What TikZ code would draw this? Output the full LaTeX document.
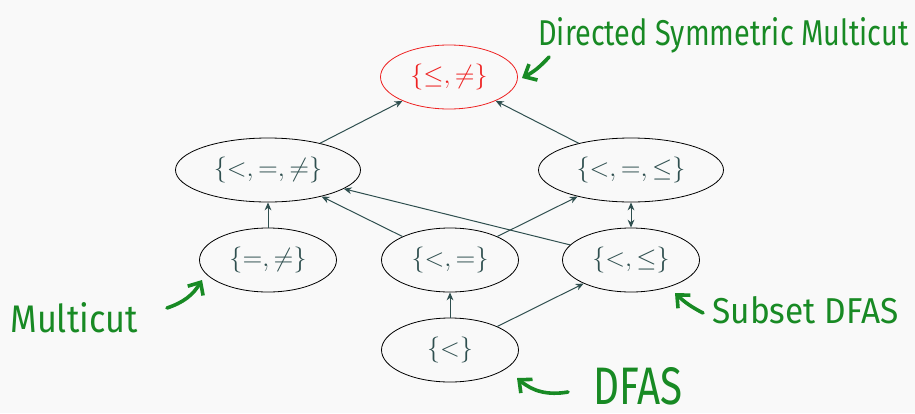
\RequirePackage{fix-cm}
\documentclass[tikz,border=0pt]{standalone}
\usepackage{fontspec}
\usepackage{graphicx}
\usetikzlibrary{shapes.geometric,arrows.meta}

\newfontfamily\handfont{Fira Sans}
\definecolor{paper}{HTML}{F9F9F9}
\definecolor{slate}{HTML}{2F4F4F}
\definecolor{setred}{HTML}{EE2222}
\definecolor{handgreen}{RGB}{24,138,36}

\begin{document}
\begin{tikzpicture} [
  x=0.5pt, y=-0.5pt,
  >={Stealth[length=4pt,width=3.4pt]},
  every node/.style={font=\fontsize{13}{16}\selectfont},
  set/.style={ellipse,draw=black,text=slate,inner sep=0,
    minimum width=68.5pt,minimum height=32pt},
  wide/.style={set,minimum width=92.5pt},
  goal/.style={set,draw=setred,text=setred},
  link/.style={draw=slate,line width=0.5pt,->},
  note/.style={text=handgreen,font=\handfont\fontsize{14}{16}\selectfont,
    inner sep=0,anchor=base west},
  pointer/.style={draw=handgreen,line width=1.8pt,line cap=round,line join=round,
    -{Straight Barb[length=5pt,width=9pt]}}
  ]
  \fill [paper] (0,0) rectangle (915,413);

  % the lattice
  \node (n0) [goal] at (449,77) {$\{\leq,\neq\}$};
  \node (n1) [wide] at (268,170) {$\{<,=,\neq\}$};
  \node (n2) [wide] at (631,170) {$\{<,=,\leq\}$};
  \node (n3) [set] at (268,260) {$\{=,\neq\}$};
  \node (n4) [set] at (450,260) {$\{<,=\}$};
  \node (n5) [set] at (631,260) {$\{<,\leq\}$};
  \node (n6) [set] at (450,350) {$\{<\}$};

  \draw [link] (n1) -- (n0);
  \draw [link] (n2) -- (n0);
  \draw [link] (n3) -- (n1);
  \draw [link] (n4) -- (n1);
  \draw [link] (n4) -- (n2);
  \draw [link] (n5) -- (n1);
  \draw [link,<->] (n2) -- (n5);
  \draw [link] (n6) -- (n4);
  \draw [link] (n6) -- (n5);

  % handwritten names of the problems
  \node (dsm) [note] at (538,45) {\resizebox{185pt}{14pt}{Directed Symmetric Multicut}};
  \node (mc) [note] at (10,332) {\resizebox{63.5pt}{15pt}{Multicut}};
  \node (sdfas) [note] at (712,323) {\resizebox{93pt}{13.5pt}{Subset DFAS}};
  \node (dfas) [note] at (593,404) {\resizebox{44.5pt}{18.5pt}{DFAS}};

  \coordinate (t0) at (549,57);
  \coordinate (h0) at (522,78);
  \coordinate (t1) at (167,308);
  \coordinate (h1) at (202,280);
  \coordinate (t2) at (703,313);
  \coordinate (h2) at (675,293);
  \coordinate (t3) at (568,392);
  \coordinate (h3) at (517,378);
  \draw [pointer] (t0) to [bend left=10] (h0);
  \draw [pointer] (t1) to [bend right=20] (h1);
  \draw [pointer] (t2) to [bend left=8] (h2);
  \draw [pointer] (t3) to [bend left=25] (h3);
\end{tikzpicture}
\end{document}
